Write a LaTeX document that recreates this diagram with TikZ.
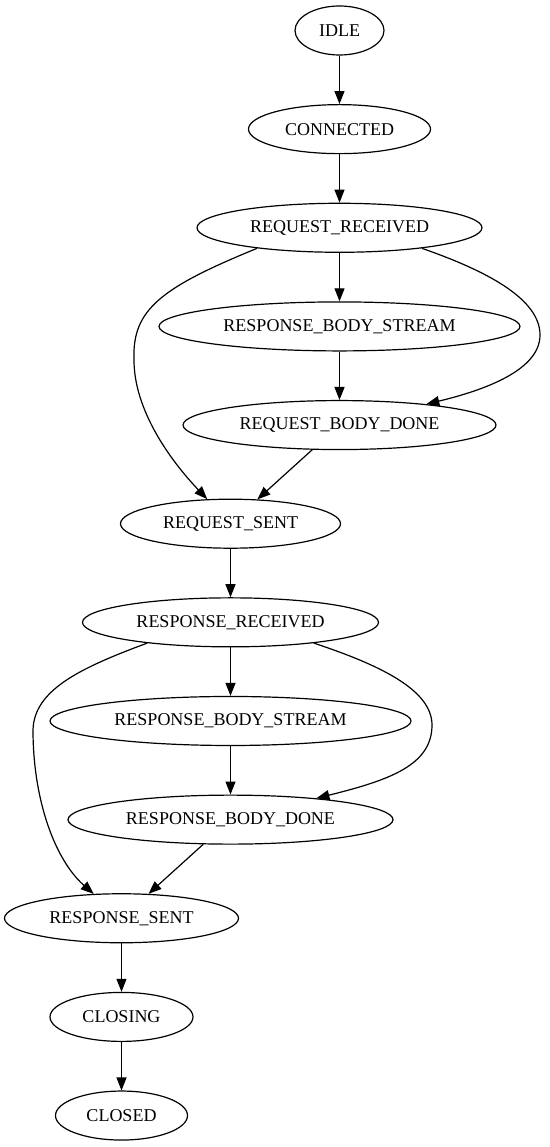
\documentclass[tikz,border=0pt]{standalone}
\usepackage{fontspec}
\setmainfont{Liberation Serif}
\usetikzlibrary{positioning, arrows.meta, shapes.geometric}

\tikzset{
    stnode/.style={draw, ellipse, minimum height=49pt, inner sep=0pt, line width=1.2pt,
        font=\fontsize{18}{20}\selectfont}
}

\begin{document}
\begin{tikzpicture}[x=1pt, y=-1pt, node distance=98.64pt, on grid,
    >={Triangle[length=13pt, width=10pt]}, line width=1.2pt]
    \useasboundingbox (0,0) rectangle (549,1147);

    \node[stnode, minimum width=89pt] (idle) at (339.5,30.5) {IDLE};
    \node[stnode, minimum width=182pt] (conn) [below=of idle] {CONNECTED};
    \node[stnode, minimum width=285pt] (reqrecv) [below=of conn] {REQUEST\_RECEIVED};
    \node[stnode, minimum width=361pt] (respstream1) [below=of reqrecv] {RESPONSE\_BODY\_STREAM};
    \node[stnode, minimum width=313pt] (reqdone) [below=of respstream1] {REQUEST\_BODY\_DONE};
    \node[stnode, minimum width=220pt] (reqsent) [below left=98.64pt and 109pt of reqdone] {REQUEST\_SENT};
    \node[stnode, minimum width=296pt] (resprecv) [below=of reqsent] {RESPONSE\_RECEIVED};
    \node[stnode, minimum width=361pt] (respstream2) [below=of resprecv] {RESPONSE\_BODY\_STREAM};
    \node[stnode, minimum width=325pt] (respdone) [below=of respstream2] {RESPONSE\_BODY\_DONE};
    \node[stnode, minimum width=234pt] (respsent) [below left=98.64pt and 109pt of respdone] {RESPONSE\_SENT};
    \node[stnode, minimum width=143pt] (closing) [below=of respsent] {CLOSING};
    \node[stnode, minimum width=132pt] (closed) [below=of closing] {CLOSED};

    \path[->]
    (idle) edge (conn)
    (conn) edge (reqrecv)
    (reqrecv) edge (respstream1)
    (respstream1) edge (reqdone)
    (reqdone) edge (reqsent)
    (reqsent) edge (resprecv)
    (resprecv) edge (respstream2)
    (respstream2) edge (respdone)
    (respdone) edge (respsent)
    (respsent) edge (closing)
    (closing) edge (closed);

    % bypass edges
    \draw[->] (reqrecv.194) .. controls (160,288) and (132,310) .. (134,360)
        .. controls (134,410) and (170,460) .. (reqsent);
    \draw[->] (reqrecv.-14) .. controls (490,272) and (540,300) .. (540,335)
        .. controls (540,370) and (485,390) .. (reqdone);
    \draw[->] (resprecv.194) .. controls (80,668) and (34,690) .. (33,730)
        .. controls (33,800) and (55,860) .. (respsent);
    \draw[->] (resprecv.-14) .. controls (380,665) and (432,690) .. (432,725)
        .. controls (432,765) and (390,780) .. (respdone);
\end{tikzpicture}
\end{document}
